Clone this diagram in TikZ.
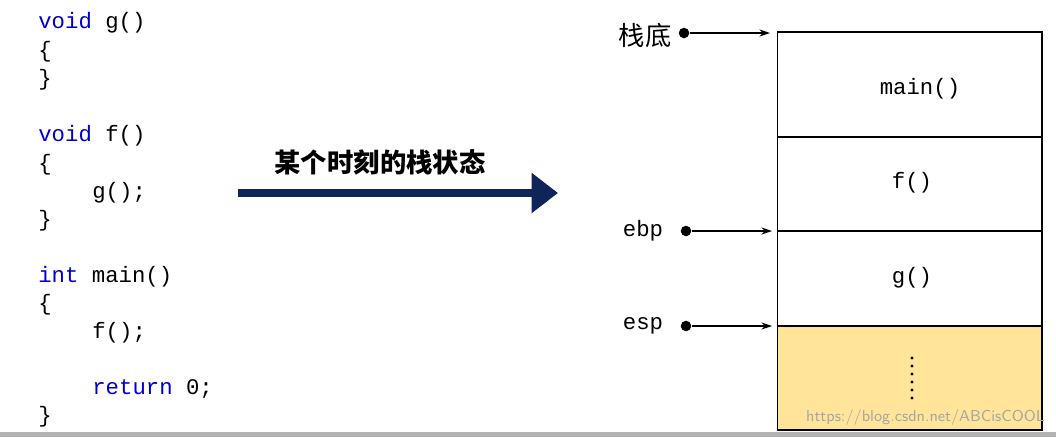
\documentclass[tikz,border=0pt]{standalone}
\usepackage{fontspec}
\setmonofont{Liberation Mono}
\newfontfamily\cjk{Noto Sans CJK SC}
\usetikzlibrary{arrows.meta}
\definecolor{kw}{RGB}{0,0,205}
\definecolor{navy}{RGB}{16,36,92}
\definecolor{stk}{RGB}{255,228,153}
\begin{document}
\begin{tikzpicture}[x=0.02cm,y=-0.02cm,
  code/.style={anchor=west,inner sep=0,font=\ttfamily\fontsize{12.7}{14}\selectfont},
  lbl/.style={inner sep=0,font=\ttfamily\fontsize{12.7}{14}\selectfont},
  pt/.style={circle,fill=black,inner sep=0,minimum size=6pt},
  ptr/.style={-{Stealth[length=6pt,width=4pt]},line width=0.6pt}]
\useasboundingbox (0,0) rectangle (1056,437);
\fill[gray!60] (0,432) rectangle (1056,437);
% code
\node[code] (c1) at (38,23) {\textcolor{kw}{void} g()};
\node[code] (c2) at (38,52) {\{};
\node[code] (c3) at (38,80) {\}};
\node[code] (c4) at (38,136) {\textcolor{kw}{void} f()};
\node[code] (c5) at (38,165) {\{};
\node[code] (c6) at (92,193) {g();};
\node[code] (c7) at (38,221) {\}};
\node[code] (c8) at (38,277) {\textcolor{kw}{int} main()};
\node[code] (c9) at (38,305) {\{};
\node[code] (c10) at (92,333) {f();};
\node[code] (c11) at (92,389) {\textcolor{kw}{return} 0;};
\node[code] (c12) at (38,417) {\}};
% arrow
\coordinate (a1) at (238,193);
\coordinate (a2) at (558,193);
\draw[navy,line width=5pt,-{Triangle[length=15pt,width=22pt]}] (a1) -- (a2);
\node[font=\cjk\bfseries\fontsize{15}{18}\selectfont,inner sep=0] (t) at (380,162) {某个时刻的栈状态};
% stack
\fill[stk] (777,326) rectangle (1042,430);
\node[draw,line width=0.6pt,minimum width=5.3cm,minimum height=2.1cm,inner sep=0] (s1) at (909.5,84.5) {};
\node[draw,line width=0.6pt,minimum width=5.3cm,minimum height=1.88cm,inner sep=0] (s2) at (909.5,184) {};
\node[draw,line width=0.6pt,minimum width=5.3cm,minimum height=1.9cm,inner sep=0] (s3) at (909.5,278.5) {};
\node[draw,line width=0.6pt,minimum width=5.3cm,minimum height=2.08cm,inner sep=0] (s4) at (909.5,378) {};
\node[lbl] (m) at (920,89) {main()};
\node[lbl] (f) at (912,183) {f()};
\node[lbl] (g) at (912,278) {g()};
\foreach \yy in {358,366,374,382,390,398} \fill (912,\yy) circle (0.9pt);
\node[font=\sffamily\fontsize{9}{10}\selectfont,text=gray!70,anchor=east,inner sep=0] (w) at (1045,418) {https://blog.csdn.net/ABCisCOOL};
% pointers
\node[font=\cjk\fontsize{15}{18}\selectfont,inner sep=0] (l1) at (645,35) {栈底};
\node[lbl] (l2) at (643,231) {ebp};
\node[lbl] (l3) at (643,326) {esp};
\node[pt] (p1) at (684,33) {};
\node[pt] (p2) at (686,231) {};
\node[pt] (p3) at (686,326) {};
\coordinate (e1) at (770,33);
\coordinate (e2) at (772,231);
\coordinate (e3) at (772,326);
\draw[ptr] (p1) -- (e1);
\draw[ptr] (p2) -- (e2);
\draw[ptr] (p3) -- (e3);
\end{tikzpicture}
\end{document}
